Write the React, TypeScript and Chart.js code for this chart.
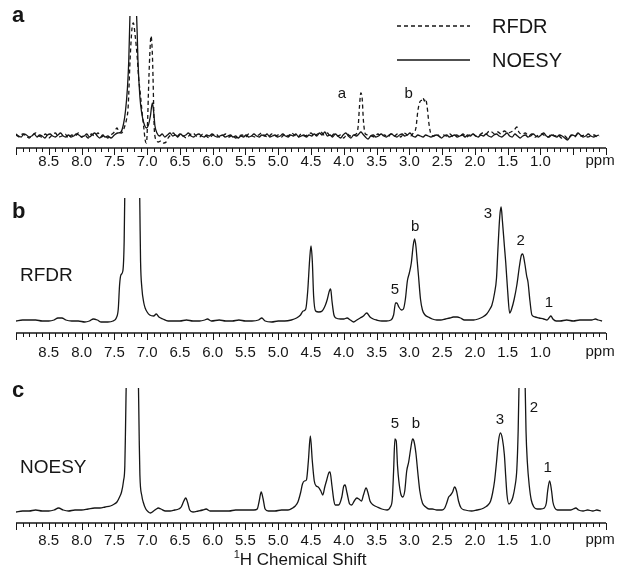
import React, { useEffect, useRef } from 'react';
import { Chart, registerables } from 'chart.js';

Chart.register(...registerables);

const FONT = '"Liberation Sans", Arial, Helvetica, sans-serif';
const INK = '#161616';

// ---- Panel a: RFDR (dashed) and NOESY (solid) difference spectra, [ppm, intensity]
const rfdrA: [number, number][] = [
  [9.0, 1], [8.95, -1], [8.9, 2], [8.85, 0], [8.8, -2], [8.75, 1], [8.7, 3], [8.65, 0], [8.6, -1], [8.55, 2],
  [8.5, -2], [8.45, 1], [8.4, 3], [8.35, -1], [8.3, 0], [8.25, 2], [8.2, -2], [8.15, 1], [8.1, 0], [8.05, 3],
  [8.0, -1], [7.95, 1], [7.9, -2], [7.85, 2], [7.8, 0], [7.75, 3], [7.7, -1], [7.65, 1], [7.6, -2], [7.55, 1],
  [7.5, 4], [7.46, 8], [7.43, 4], [7.39, 3], [7.34, 10], [7.31, 18], [7.29, 28], [7.26, 76], [7.23, 108], [7.21, 113],
  [7.18, 99], [7.15, 78], [7.13, 59], [7.1, 40], [7.08, 26], [7.05, 8], [7.03, -4], [7.01, -7], [6.99, 20], [6.98, 43],
  [6.96, 80], [6.94, 100], [6.92, 82], [6.91, 59], [6.89, 6], [6.86, -4], [6.83, -6], [6.79, -5], [6.75, -7], [6.71, -6],
  [6.68, -2], [6.64, 1], [6.6, 3], [6.55, -1], [6.5, 2], [6.45, 0], [6.4, -2], [6.35, 1], [6.3, 3], [6.25, 0],
  [6.2, -1], [6.15, 2], [6.1, 0], [6.05, -2], [6.0, 1], [5.95, 2], [5.9, -1], [5.85, 0], [5.8, 2], [5.75, -1],
  [5.7, 1], [5.65, -2], [5.6, 0], [5.55, 1], [5.5, -1], [5.45, 2], [5.4, 0], [5.35, -1], [5.3, 1], [5.25, 3],
  [5.2, 0], [5.15, -1], [5.1, 2], [5.05, 0], [5.0, 1], [4.95, -1], [4.9, 2], [4.85, 0], [4.8, 3], [4.75, 1],
  [4.7, -1], [4.65, 2], [4.6, 0], [4.55, 1], [4.5, 3], [4.45, 0], [4.4, 2], [4.35, 4], [4.3, 1], [4.25, 3],
  [4.2, -1], [4.15, 2], [4.1, 0], [4.05, 1], [4.0, -2], [3.95, 2], [3.9, 0], [3.85, 1], [3.81, 2], [3.78, 10],
  [3.76, 30], [3.74, 43], [3.72, 38], [3.7, 15], [3.67, 2], [3.63, 1], [3.58, 0], [3.53, -1], [3.48, 2], [3.43, 0],
  [3.38, 1], [3.33, -1], [3.28, 2], [3.23, 0], [3.18, 2], [3.13, -1], [3.08, 3], [3.03, 1], [2.98, 0], [2.94, 3],
  [2.9, 8], [2.87, 25], [2.84, 34], [2.81, 36], [2.79, 38], [2.77, 35], [2.75, 37], [2.73, 30], [2.7, 12], [2.67, 2],
  [2.63, 0], [2.58, 2], [2.53, -1], [2.48, 1], [2.43, 0], [2.38, 2], [2.33, -1], [2.28, 1], [2.23, 0], [2.18, 2],
  [2.13, -1], [2.08, 1], [2.03, 2], [1.98, 0], [1.93, 1], [1.88, 3], [1.83, 2], [1.78, 5], [1.74, 4], [1.7, 2],
  [1.65, 4], [1.6, 2], [1.55, 5], [1.5, 3], [1.45, 4], [1.4, 6], [1.36, 9], [1.33, 4], [1.28, 2], [1.23, 3],
  [1.18, 0], [1.13, 2], [1.08, -1], [1.03, 1], [0.98, 2], [0.93, 0], [0.88, -1], [0.83, 2], [0.78, 0], [0.73, 1],
  [0.68, -2], [0.63, 0], [0.58, -3], [0.53, 1], [0.48, -1], [0.43, 2], [0.38, 0], [0.33, 1], [0.28, -1], [0.23, 0],
  [0.18, 1], [0.13, -1], [0.1, 0],
];

const noesyA: [number, number][] = [
  [9.0, 2], [8.96, 0], [8.92, -1], [8.88, 2], [8.84, 1], [8.8, -1], [8.76, 0], [8.72, 2], [8.68, -1], [8.64, 1],
  [8.6, 0], [8.56, -2], [8.52, 1], [8.48, 2], [8.44, 0], [8.4, -1], [8.36, 1], [8.32, 3], [8.28, 0], [8.24, -1],
  [8.2, 1], [8.16, -1], [8.12, 0], [8.08, 2], [8.04, 1], [8.0, -1], [7.96, 0], [7.92, 2], [7.88, -1], [7.84, 1],
  [7.8, 3], [7.76, 0], [7.72, -2], [7.68, 1], [7.64, -1], [7.6, 0], [7.55, -2], [7.5, 1], [7.45, 3], [7.4, 4],
  [7.36, 12], [7.33, 25], [7.3, 48], [7.28, 75], [7.26, 125], [7.23, 180], [7.2, 180], [7.17, 140], [7.15, 100], [7.14, 76],
  [7.11, 39], [7.08, 22], [7.05, 13], [7.01, 8], [6.98, 11], [6.95, 20], [6.92, 33], [6.9, 24], [6.88, 10], [6.85, 3],
  [6.81, 0], [6.77, 2], [6.73, -1], [6.69, 1], [6.65, 3], [6.61, 0], [6.57, 1], [6.53, -1], [6.49, 2], [6.45, 0],
  [6.41, 1], [6.37, 3], [6.33, 0], [6.29, -1], [6.25, 1], [6.21, 2], [6.17, 0], [6.13, -1], [6.09, 1], [6.05, 0],
  [6.01, 2], [5.97, 0], [5.93, -1], [5.89, 0], [5.85, 1], [5.81, -1], [5.77, 0], [5.73, 1], [5.69, -1], [5.65, 0],
  [5.61, -2], [5.57, 0], [5.53, -1], [5.49, 1], [5.45, -1], [5.41, 0], [5.37, 2], [5.33, 0], [5.29, -1], [5.25, 1],
  [5.21, 0], [5.17, 2], [5.13, -1], [5.09, 0], [5.05, 1], [5.01, -1], [4.97, 0], [4.93, 2], [4.89, 0], [4.85, -1],
  [4.81, 1], [4.77, 0], [4.73, 2], [4.69, -1], [4.65, 0], [4.61, 1], [4.57, -1], [4.53, 1], [4.49, 0], [4.45, 2],
  [4.41, 0], [4.37, 3], [4.33, 1], [4.29, 4], [4.25, 0], [4.21, 1], [4.17, -1], [4.13, 2], [4.09, 0], [4.05, -2],
  [4.01, 1], [3.97, 3], [3.93, 0], [3.89, -2], [3.85, 1], [3.81, 0], [3.77, 2], [3.74, 4], [3.71, 2], [3.67, -1],
  [3.63, -3], [3.59, 0], [3.55, 1], [3.51, -1], [3.47, 0], [3.43, 2], [3.39, 0], [3.35, -1], [3.31, 1], [3.27, 2],
  [3.23, 0], [3.19, -1], [3.15, 1], [3.11, 2], [3.07, 0], [3.03, 1], [2.99, 3], [2.95, 0], [2.91, -1], [2.87, 1],
  [2.83, 0], [2.79, -1], [2.75, 1], [2.71, 0], [2.67, -1], [2.63, 0], [2.59, 1], [2.55, 0], [2.51, -2], [2.47, 0],
  [2.43, 1], [2.39, -1], [2.35, 0], [2.31, 1], [2.27, -1], [2.23, 0], [2.19, 1], [2.15, -1], [2.11, 1], [2.07, 0],
  [2.03, 2], [1.99, 0], [1.95, -1], [1.91, 1], [1.87, 0], [1.83, 2], [1.79, 0], [1.75, -1], [1.71, 1], [1.67, 2],
  [1.63, 0], [1.59, -1], [1.55, 1], [1.51, 3], [1.47, 0], [1.43, -1], [1.39, 2], [1.35, 0], [1.31, -2], [1.27, 0],
  [1.23, 1], [1.19, -1], [1.15, 0], [1.11, 2], [1.07, 0], [1.03, -1], [0.99, 1], [0.95, 3], [0.91, 0], [0.87, -1],
  [0.83, 1], [0.79, 0], [0.75, -1], [0.71, 1], [0.67, 0], [0.63, -2], [0.59, -4], [0.55, -1], [0.51, 1], [0.47, 0],
  [0.43, 3], [0.39, 1], [0.35, -1], [0.31, 0], [0.27, 2], [0.23, 0], [0.19, -1], [0.15, 0], [0.11, 1],
];

// ---- Panel b: RFDR spectrum
const rfdrB: [number, number][] = [
  [9.0, 0], [8.9, 1], [8.8, 1], [8.7, 1], [8.6, 0], [8.5, 0], [8.42, 1], [8.36, 3], [8.3, 3], [8.24, 1],
  [8.15, 0], [8.05, 0], [7.95, -1], [7.88, 0], [7.82, 2], [7.76, 1], [7.7, -1], [7.6, -1], [7.52, 0], [7.47, 3],
  [7.44, 12], [7.42, 36], [7.4, 46], [7.37, 50], [7.35, 80], [7.34, 130], [7.3, 200], [7.2, 260], [7.13, 200], [7.11, 110],
  [7.1, 60], [7.08, 33], [7.05, 18], [7.03, 13], [7.0, 9], [6.96, 6], [6.9, 5], [6.86, 7], [6.82, 4], [6.76, 2],
  [6.68, 0], [6.6, 0], [6.5, 0], [6.4, 1], [6.3, 0], [6.2, 0], [6.12, 1], [6.08, 2], [6.02, 0], [5.9, 1],
  [5.8, 0], [5.7, 0], [5.6, 1], [5.5, 0], [5.4, 0], [5.3, 1], [5.25, 3], [5.2, 0], [5.1, -1], [5.0, 0],
  [4.9, 0], [4.8, 1], [4.72, 3], [4.66, 6], [4.62, 10], [4.58, 12], [4.55, 30], [4.52, 62], [4.5, 75], [4.48, 60],
  [4.46, 25], [4.43, 10], [4.38, 9], [4.33, 10], [4.28, 16], [4.25, 22], [4.22, 30], [4.2, 32], [4.18, 20], [4.15, 6],
  [4.12, 3], [4.05, 2], [4.0, 2], [3.95, 3], [3.9, 1], [3.85, -1], [3.8, 1], [3.75, 3], [3.7, 5], [3.65, 8],
  [3.6, 4], [3.55, 2], [3.5, 1], [3.42, 0], [3.35, 0], [3.28, 1], [3.24, 6], [3.21, 18], [3.19, 18], [3.16, 14],
  [3.12, 11], [3.09, 12], [3.06, 22], [3.03, 40], [3.0, 48], [2.97, 58], [2.94, 76], [2.92, 82], [2.9, 75], [2.88, 60],
  [2.86, 45], [2.83, 22], [2.8, 11], [2.76, 6], [2.71, 4], [2.65, 2], [2.58, 1], [2.52, 1], [2.45, 2], [2.38, 3],
  [2.33, 4], [2.27, 4], [2.22, 3], [2.16, 1], [2.1, 1], [2.02, 1], [1.95, 2], [1.88, 4], [1.82, 7], [1.77, 12],
  [1.74, 16], [1.7, 28], [1.67, 43], [1.65, 70], [1.62, 105], [1.6, 114], [1.58, 100], [1.55, 75], [1.53, 59], [1.5, 30],
  [1.47, 8], [1.44, 12], [1.4, 22], [1.36, 36], [1.32, 55], [1.29, 66], [1.27, 67], [1.24, 58], [1.21, 45], [1.19, 39],
  [1.16, 20], [1.13, 6], [1.08, 4], [1.02, 3], [0.95, 2], [0.9, 1], [0.87, 3], [0.84, 5], [0.81, 2], [0.76, 0],
  [0.7, 0], [0.6, 1], [0.5, 0], [0.4, 1], [0.3, 1], [0.22, 1], [0.16, 2], [0.12, 1], [0.06, 0],
];

// ---- Panel c: NOESY spectrum
const noesyC: [number, number][] = [
  [9.0, -1], [8.9, 0], [8.8, 0], [8.7, 1], [8.6, 0], [8.5, 0], [8.42, 1], [8.35, 3], [8.28, 1], [8.2, 0],
  [8.1, 1], [8.0, 1], [7.9, 2], [7.8, 3], [7.72, 3], [7.64, 4], [7.56, 5], [7.5, 7], [7.46, 9], [7.42, 14],
  [7.39, 19], [7.36, 30], [7.34, 45], [7.33, 80], [7.31, 160], [7.22, 300], [7.14, 160], [7.12, 70], [7.11, 36], [7.08, 15],
  [7.06, 9], [7.02, 2], [6.98, -1], [6.95, -2], [6.9, 0], [6.86, 2], [6.83, 3], [6.79, 2], [6.72, 0], [6.65, 0],
  [6.58, 1], [6.52, 2], [6.48, 4], [6.44, 10], [6.41, 13], [6.38, 8], [6.35, 1], [6.3, -1], [6.22, 0], [6.15, 1],
  [6.1, 2], [6.04, 0], [5.95, 0], [5.85, 0], [5.75, 0], [5.65, 1], [5.55, 1], [5.45, 1], [5.37, 1], [5.32, 2],
  [5.29, 10], [5.26, 19], [5.23, 12], [5.2, 2], [5.15, 0], [5.05, 0], [4.95, 1], [4.85, 1], [4.78, 3], [4.74, 5],
  [4.7, 9], [4.66, 18], [4.63, 27], [4.6, 30], [4.57, 31], [4.54, 50], [4.51, 75], [4.48, 50], [4.45, 30], [4.42, 25],
  [4.39, 24], [4.35, 20], [4.32, 16], [4.29, 24], [4.26, 31], [4.23, 38], [4.21, 39], [4.18, 25], [4.15, 10], [4.13, 6],
  [4.08, 6], [4.03, 14], [4.0, 25], [3.98, 26], [3.95, 18], [3.91, 7], [3.88, 6], [3.84, 10], [3.8, 13], [3.77, 12],
  [3.73, 10], [3.7, 16], [3.66, 23], [3.63, 18], [3.6, 10], [3.55, 6], [3.49, 4], [3.42, 2], [3.34, 1], [3.29, 4],
  [3.26, 12], [3.24, 40], [3.22, 72], [3.2, 70], [3.18, 45], [3.16, 30], [3.13, 17], [3.1, 14], [3.07, 20], [3.04, 40],
  [3.01, 49], [2.98, 62], [2.95, 72], [2.93, 70], [2.9, 58], [2.87, 38], [2.84, 20], [2.8, 8], [2.75, 4], [2.7, 2],
  [2.65, 2], [2.58, 1], [2.5, 1], [2.46, 3], [2.43, 8], [2.4, 14], [2.37, 16], [2.34, 19], [2.31, 24], [2.28, 20],
  [2.25, 10], [2.21, 3], [2.15, 1], [2.05, 0], [1.97, 1], [1.9, 2], [1.84, 4], [1.8, 6], [1.76, 10], [1.73, 18],
  [1.7, 30], [1.67, 49], [1.64, 70], [1.61, 78], [1.58, 72], [1.55, 56], [1.53, 35], [1.51, 16], [1.48, 7], [1.45, 9],
  [1.42, 14], [1.39, 24], [1.36, 42], [1.34, 80], [1.32, 150], [1.28, 260], [1.24, 150], [1.22, 80], [1.2, 49], [1.17, 25],
  [1.14, 11], [1.1, 4], [1.05, 2], [1.0, 2], [0.94, 3], [0.91, 8], [0.89, 20], [0.86, 30], [0.83, 20], [0.81, 9],
  [0.78, 3], [0.74, 1], [0.68, 1], [0.6, 1], [0.54, 1], [0.5, 2], [0.46, 3], [0.42, 1], [0.35, 0], [0.28, 1],
  [0.2, 0], [0.14, 1], [0.08, 0],
];

// ---- Axis tick labels and peak annotations [label, ppm, intensity]
const tickLabels = ['8.5', '8.0', '7.5', '7.0', '6.5', '6.0', '5.5', '5.0', '4.5', '4.0', '3.5', '3.0', '2.5', '2.0', '1.5', '1.0'];
const peaksA: [string, number, number][] = [['a', 4.03, 38], ['b', 3.01, 38]];
const peaksB: [string, number, number][] = [['5', 3.22, 27], ['b', 2.91, 90], ['3', 1.8, 103], ['2', 1.3, 76], ['1', 0.87, 14]];
const peaksC: [string, number, number][] = [['5', 3.22, 83], ['b', 2.9, 83], ['3', 1.62, 87], ['2', 1.1, 99], ['1', 0.89, 39]];

type Series = { pts: [number, number][]; dash: number[] };
type PanelCfg = {
  series: Series[];
  top: number;
  axisY: number;
  yMax: number;
  labelBase: number;
  peaks: [string, number, number][];
  letter: string;
  letterBase: number;
  name?: string;
  nameBase?: number;
  legend?: boolean;
  title?: boolean;
};

const W = 624;
const H = 575;

const panels: PanelCfg[] = [
  {
    series: [{ pts: rfdrA, dash: [4, 3] }, { pts: noesyA, dash: [] }],
    top: 16, axisY: 148, yMax: 120, labelBase: 18, peaks: peaksA, letter: 'a', letterBase: 22, legend: true,
  },
  {
    series: [{ pts: rfdrB, dash: [] }],
    top: 198, axisY: 333, yMax: 123, labelBase: 24, peaks: peaksB, letter: 'b', letterBase: 218, name: 'RFDR', nameBase: 281,
  },
  {
    series: [{ pts: noesyC, dash: [] }],
    top: 388, axisY: 523, yMax: 123, labelBase: 22, peaks: peaksC, letter: 'c', letterBase: 397, name: 'NOESY', nameBase: 473, title: true,
  },
];

function makeDecor(cfg: PanelCfg) {
  return {
    id: 'nmrDecor',
    afterDraw(chart: any) {
      const ctx: CanvasRenderingContext2D = chart.ctx;
      const xs = chart.scales.x;
      const ys = chart.scales.y;
      const axisY = ys.getPixelForValue(ys.min);
      const x0 = xs.getPixelForValue(9);
      const x1 = xs.getPixelForValue(0);
      ctx.save();
      ctx.strokeStyle = INK;
      ctx.fillStyle = INK;
      ctx.setLineDash([]);
      // axis line
      ctx.lineWidth = 1.4;
      ctx.beginPath();
      ctx.moveTo(x0, axisY);
      ctx.lineTo(x1, axisY);
      ctx.stroke();
      // ticks every 0.1 ppm, major every 0.5
      ctx.lineWidth = 1;
      for (let i = 0; i <= 90; i++) {
        const px = Math.round(xs.getPixelForValue(i / 10)) + 0.5;
        const len = i % 5 === 0 ? 7 : 4;
        ctx.beginPath();
        ctx.moveTo(px, axisY);
        ctx.lineTo(px, axisY + len);
        ctx.stroke();
      }
      // tick labels
      ctx.font = `15px ${FONT}`;
      ctx.textAlign = 'center';
      ctx.textBaseline = 'alphabetic';
      for (const s of tickLabels) {
        ctx.fillText(s, xs.getPixelForValue(parseFloat(s)), axisY + cfg.labelBase);
      }
      ctx.fillText('ppm', xs.getPixelForValue(0.09), axisY + cfg.labelBase - 1);
      // peak labels
      ctx.font = `15px ${FONT}`;
      for (const [t, p, v] of cfg.peaks) {
        ctx.fillText(t, xs.getPixelForValue(p), ys.getPixelForValue(v));
      }
      // panel letter
      ctx.textAlign = 'left';
      ctx.font = `bold 22px ${FONT}`;
      ctx.fillText(cfg.letter, 12, cfg.letterBase);
      if (cfg.name) {
        ctx.font = `19px ${FONT}`;
        ctx.fillText(cfg.name, 20, cfg.nameBase!);
      }
      if (cfg.legend) {
        ctx.lineWidth = 1.3;
        ctx.setLineDash([4, 3]);
        ctx.beginPath();
        ctx.moveTo(397, 26);
        ctx.lineTo(470, 26);
        ctx.stroke();
        ctx.setLineDash([]);
        ctx.beginPath();
        ctx.moveTo(397, 60);
        ctx.lineTo(470, 60);
        ctx.stroke();
        ctx.font = `20px ${FONT}`;
        ctx.fillText('RFDR', 492, 33);
        ctx.fillText('NOESY', 492, 67);
      }
      if (cfg.title) {
        ctx.textAlign = 'center';
        ctx.font = `17px ${FONT}`;
        const main = 'H Chemical Shift';
        const wMain = ctx.measureText(main).width;
        ctx.font = `11px ${FONT}`;
        const wSup = ctx.measureText('1').width;
        const start = 300 - (wMain + wSup) / 2;
        ctx.textAlign = 'left';
        ctx.fillText('1', start, 558);
        ctx.font = `17px ${FONT}`;
        ctx.fillText(main, start + wSup, 565);
      }
      ctx.restore();
    },
  };
}

function PanelChart({ cfg }: { cfg: PanelCfg }) {
  const ref = useRef<HTMLCanvasElement | null>(null);
  useEffect(() => {
    if (!ref.current) return;
    const chart = new Chart(ref.current, {
      type: 'line',
      data: {
        datasets: cfg.series.map((s) => ({
          data: s.pts.map(([x, y]) => ({ x, y })),
          borderColor: INK,
          borderWidth: 1.3,
          borderDash: s.dash,
          pointRadius: 0,
          fill: false,
          cubicInterpolationMode: 'monotone' as const,
        })),
      },
      options: {
        animation: false,
        responsive: false,
        maintainAspectRatio: false,
        events: [],
        layout: { padding: { left: 16, right: W - 606, top: cfg.top, bottom: H - cfg.axisY } },
        scales: {
          x: { type: 'linear', min: 0, max: 9, reverse: true, display: false },
          y: { type: 'linear', min: -12, max: cfg.yMax, display: false },
        },
        plugins: { legend: { display: false }, tooltip: { enabled: false } },
      },
      plugins: [makeDecor(cfg)],
    });
    return () => chart.destroy();
  }, [cfg]);
  return (
    <canvas
      ref={ref}
      width={W}
      height={H}
      style={{ position: 'absolute', left: 0, top: 0, width: W, height: H }}
    />
  );
}

export default function App() {
  return (
    <div style={{ position: 'absolute', left: 0, top: 0, width: W, height: H, background: '#fff' }}>
      {panels.map((p, i) => (
        <PanelChart key={i} cfg={p} />
      ))}
    </div>
  );
}
